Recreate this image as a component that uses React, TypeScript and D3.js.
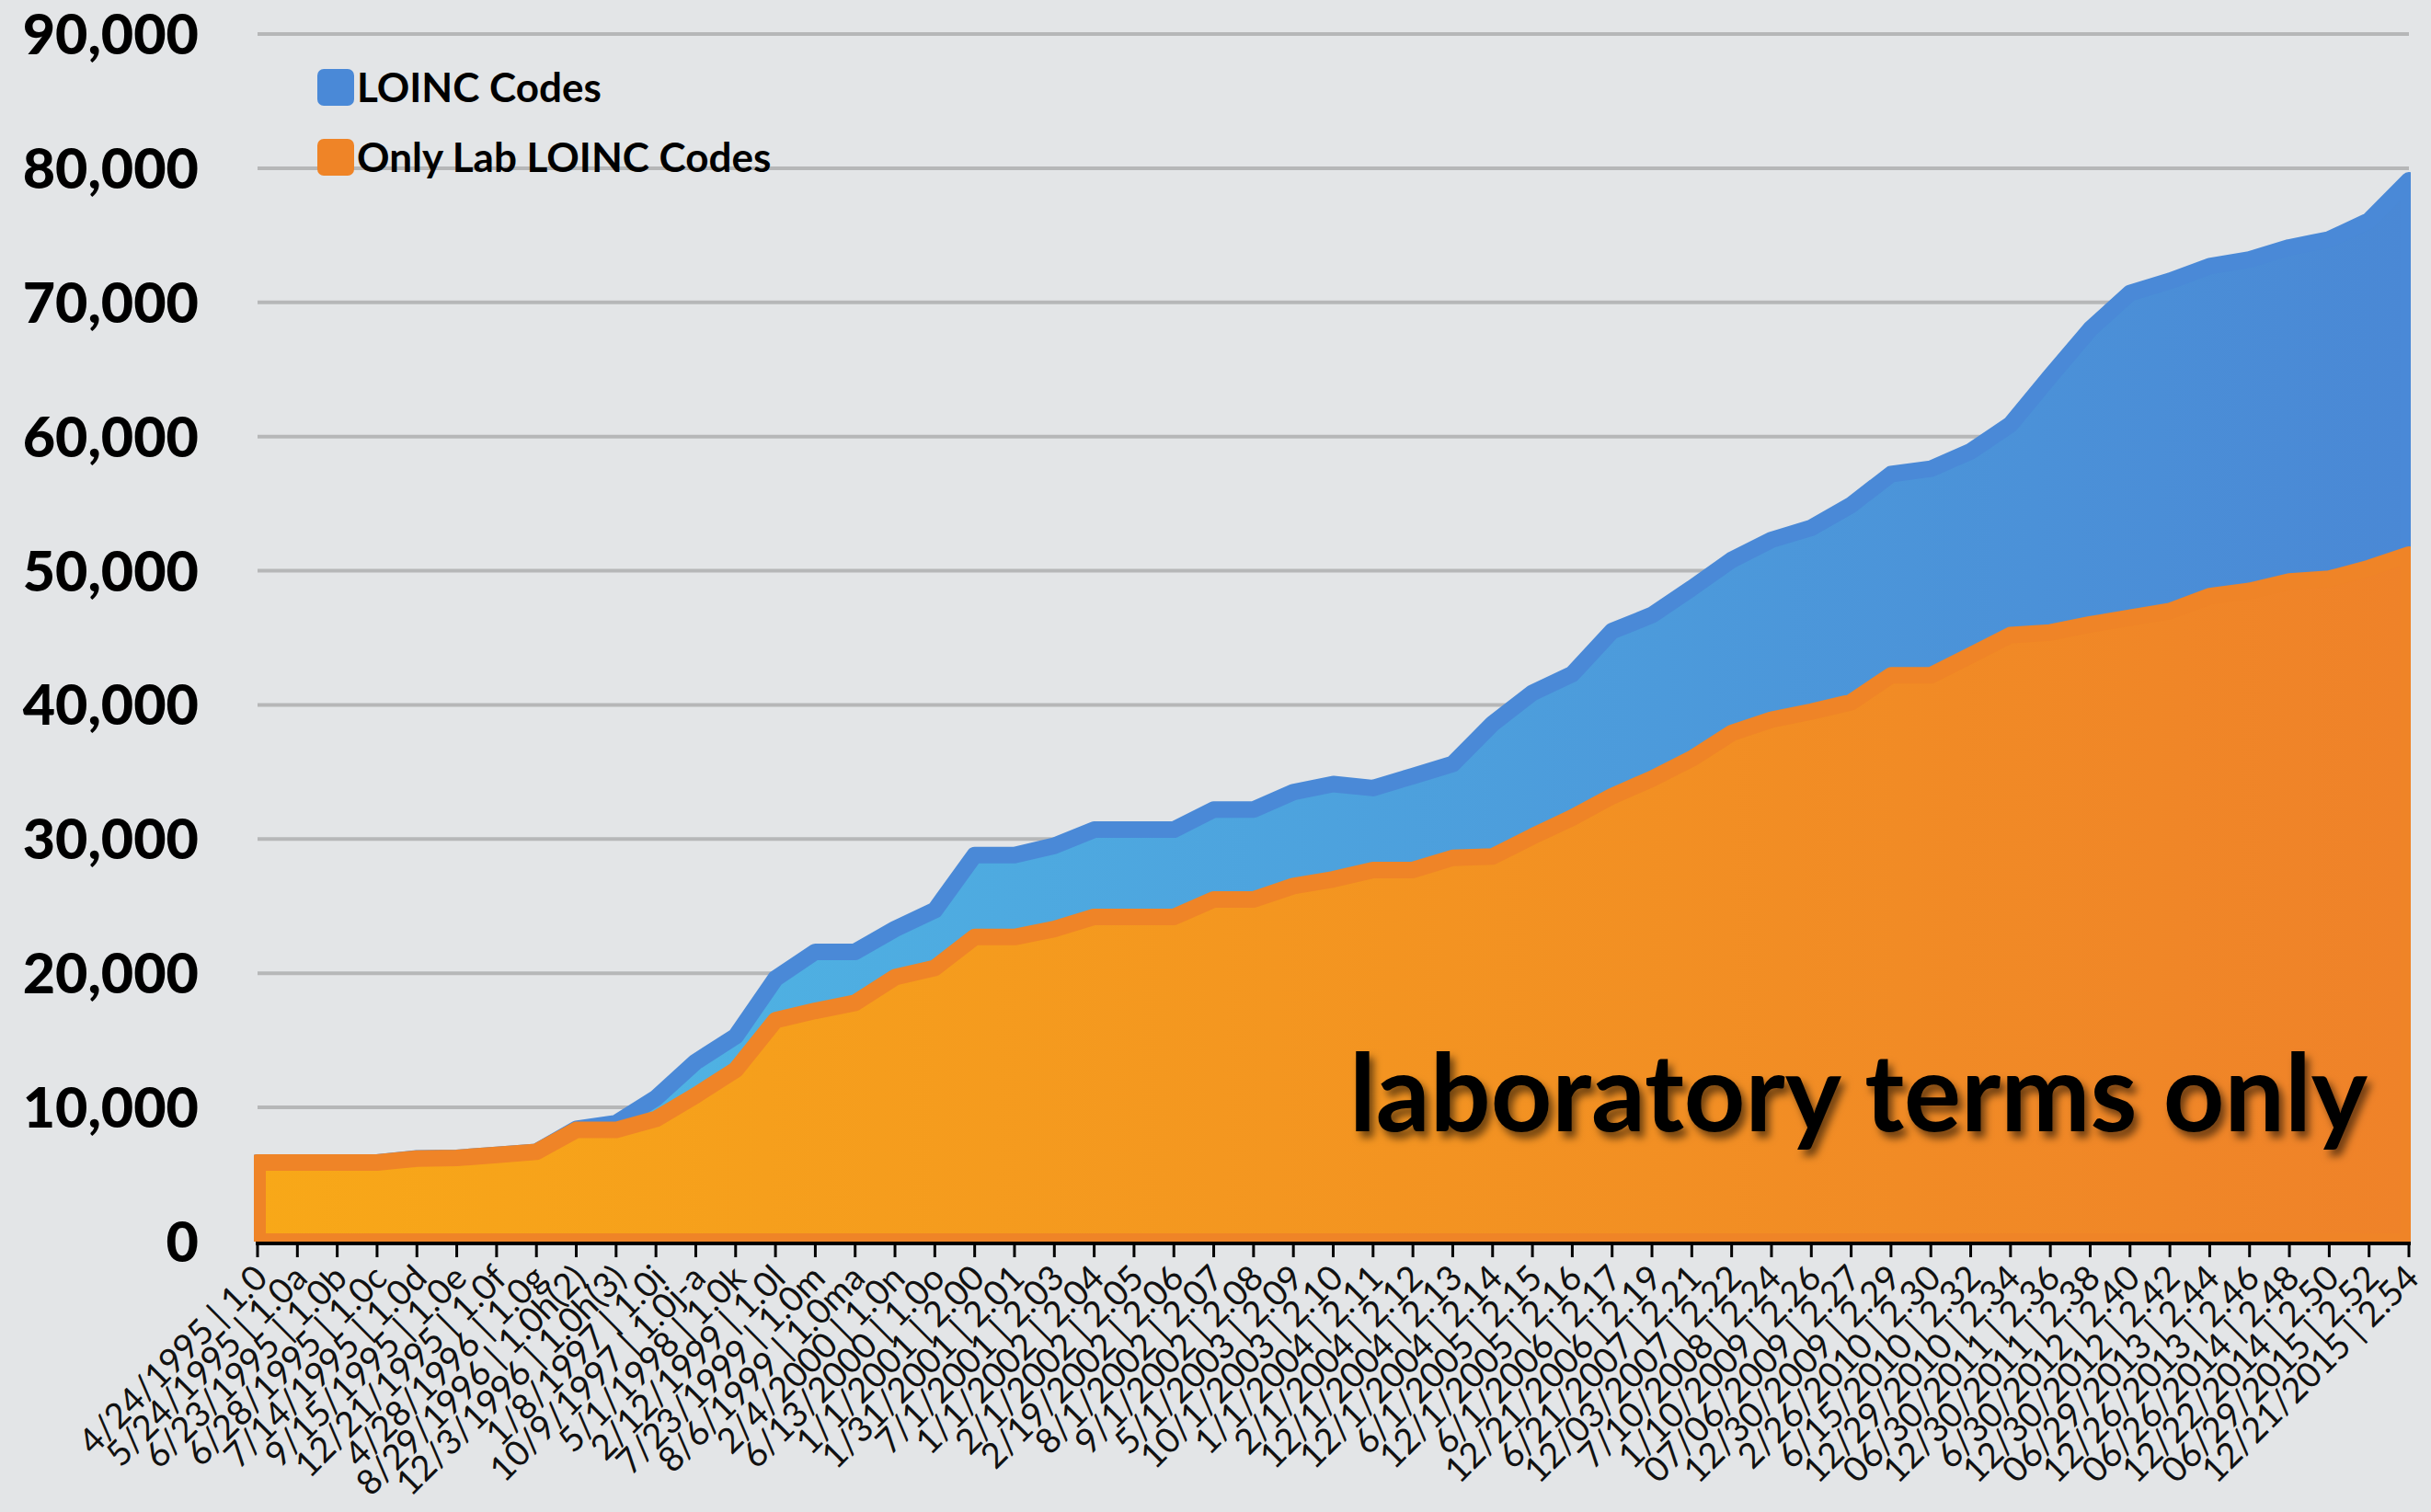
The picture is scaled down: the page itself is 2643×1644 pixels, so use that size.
import React, { useEffect, useRef } from "react";
import * as d3 from "d3";

// release date | LOINC version
const categories = [
  "4/24/1995 | 1.0", "5/24/1995 | 1.0a", "6/23/1995 | 1.0b", "6/28/1995 | 1.0c",
  "7/14/1995 | 1.0d", "9/15/1995 | 1.0e", "12/21/1995 | 1.0f", "4/28/1996 | 1.0g",
  "8/29/1996 | 1.0h(2)", "12/3/1996 | 1.0h(3)", "1/8/1997 | 1.0i", "10/9/1997 | 1.0j-a",
  "5/1/1998 | 1.0k", "2/12/1999 | 1.0l", "7/23/1999 | 1.0m", "8/6/1999 | 1.0ma",
  "2/4/2000 | 1.0n", "6/13/2000 | 1.0o", "1/1/2001 | 2.00", "1/31/2001 | 2.01",
  "7/1/2001 | 2.03", "1/1/2002 | 2.04", "2/1/2002 | 2.05", "2/19/2002 | 2.06",
  "8/1/2002 | 2.07", "9/1/2002 | 2.08", "5/1/2003 | 2.09", "10/1/2003 | 2.10",
  "1/1/2004 | 2.11", "2/1/2004 | 2.12", "12/1/2004 | 2.13", "12/1/2004 | 2.14",
  "6/1/2005 | 2.15", "12/1/2005 | 2.16", "6/1/2006 | 2.17", "12/21/2006 | 2.19",
  "6/21/2007 | 2.21", "12/03/2007 | 2.22", "7/10/2008 | 2.24", "1/10/2009 | 2.26",
  "07/06/2009 | 2.27", "12/30/2009 | 2.29", "2/26/2010 | 2.30", "6/15/2010 | 2.32",
  "12/29/2010 | 2.34", "06/30/2011 | 2.36", "12/30/2011 | 2.38", "6/30/2012 | 2.40",
  "12/30/2012 | 2.42", "06/29/2013 | 2.44", "12/26/2013 | 2.46", "06/26/2014 | 2.48",
  "12/22/2014 | 2.50", "06/29/2015 | 2.52", "12/21/2015 | 2.54",
];

const loincCodes = [
  5900, 5900, 5900, 5900, 6200, 6240, 6460, 6690, 8400, 8840,
  10700, 13400, 15300, 19600, 21600, 21600, 23300, 24700, 28800, 28800,
  29500, 30700, 30700, 30700, 32200, 32200, 33500, 34100, 33800, 34700,
  35600, 38600, 40900, 42300, 45500, 46700, 48700, 50800, 52300, 53200,
  54900, 57200, 57600, 58900, 60900, 64500, 68000, 70700, 71600, 72700,
  73200, 74100, 74700, 76100, 79100,
];

const labLoincCodes = [
  5900, 5900, 5900, 5900, 6190, 6240, 6460, 6690, 8320, 8320,
  9140, 10900, 12800, 16500, 17200, 17800, 19700, 20400, 22700, 22700,
  23300, 24200, 24200, 24200, 25500, 25500, 26500, 27000, 27700, 27700,
  28600, 28700, 30200, 31600, 33200, 34500, 36000, 37900, 38900, 39500,
  40200, 42200, 42200, 43700, 45200, 45400, 46000, 46500, 47000, 48100,
  48500, 49200, 49400, 50200, 51200,
];

const yTickValues = [0, 10000, 20000, 30000, 40000, 50000, 60000, 70000, 80000, 90000];

const legendItems = [
  { label: "LOINC Codes", color: "#4a89d7" },
  { label: "Only Lab LOINC Codes", color: "#ef8427" },
];

const W = 2643;
const H = 1644;

function App() {
  const ref = useRef<SVGSVGElement>(null);

  useEffect(() => {
    const svg = d3.select(ref.current);
    svg.selectAll("*").remove();

    const left = 280, right = 2619, top = 37, bottom = 1350;

    const x = d3.scalePoint().domain(categories).range([left, right]);
    const y = d3.scaleLinear().domain([0, 90000]).range([bottom, top]);

    // background
    svg.append("rect").attr("width", W).attr("height", H).attr("fill", "#e3e5e7");

    const defs = svg.append("defs");

    const orangeGrad = defs.append("linearGradient")
      .attr("id", "orangeFill")
      .attr("gradientUnits", "userSpaceOnUse")
      .attr("x1", left).attr("x2", right).attr("y1", 0).attr("y2", 0);
    orangeGrad.append("stop").attr("offset", "0%").attr("stop-color", "#f8a818");
    orangeGrad.append("stop").attr("offset", "100%").attr("stop-color", "#ef8229");

    const blueGrad = defs.append("linearGradient")
      .attr("id", "blueFill")
      .attr("gradientUnits", "userSpaceOnUse")
      .attr("x1", left).attr("x2", right).attr("y1", 0).attr("y2", 0);
    blueGrad.append("stop").attr("offset", "0%").attr("stop-color", "#50bce6");
    blueGrad.append("stop").attr("offset", "100%").attr("stop-color", "#4a88d5");

    defs.append("clipPath").attr("id", "plotClip")
      .append("rect")
      .attr("x", left - 4).attr("y", 0)
      .attr("width", right - left + 6).attr("height", bottom);

    const shadow = defs.append("filter").attr("id", "textShadow")
      .attr("x", "-10%").attr("y", "-30%").attr("width", "120%").attr("height", "160%");
    shadow.append("feDropShadow")
      .attr("dx", 5).attr("dy", 7).attr("stdDeviation", 4)
      .attr("flood-color", "#000").attr("flood-opacity", 0.55);

    // gridlines
    svg.append("g")
      .selectAll("line")
      .data(yTickValues.slice(1))
      .enter()
      .append("line")
      .attr("x1", left).attr("x2", right)
      .attr("y1", (d) => y(d)).attr("y2", (d) => y(d))
      .attr("stroke", "#b6b7b8")
      .attr("stroke-width", 4);

    const area = d3.area<number>()
      .x((d, i) => x(categories[i]) as number)
      .y0(y(0))
      .y1((d) => y(d));

    const plot = svg.append("g").attr("clip-path", "url(#plotClip)");

    // total codes behind, lab-only codes on top
    plot.append("path")
      .datum(loincCodes)
      .attr("d", area)
      .attr("fill", "url(#blueFill)")
      .attr("stroke", legendItems[0].color)
      .attr("stroke-width", 18)
      .attr("stroke-linejoin", "round");

    plot.append("path")
      .datum(labLoincCodes)
      .attr("d", area)
      .attr("fill", "url(#orangeFill)")
      .attr("stroke", legendItems[1].color)
      .attr("stroke-width", 18)
      .attr("stroke-linejoin", "round");

    // x axis line + ticks
    svg.append("line")
      .attr("x1", left - 2).attr("x2", right + 2)
      .attr("y1", bottom + 2).attr("y2", bottom + 2)
      .attr("stroke", "#000").attr("stroke-width", 4);

    svg.append("g")
      .selectAll("line")
      .data(categories)
      .enter()
      .append("line")
      .attr("x1", (d) => x(d) as number).attr("x2", (d) => x(d) as number)
      .attr("y1", bottom + 2).attr("y2", bottom + 17)
      .attr("stroke", "#000").attr("stroke-width", 3);

    // rotated category labels
    svg.append("g")
      .selectAll("text")
      .data(categories)
      .enter()
      .append("text")
      .text((d) => d)
      .attr("transform", (d) => "translate(" + ((x(d) as number) + 13) + "," + (bottom + 42) + ") rotate(-45)")
      .attr("text-anchor", "end")
      .attr("font-family", "Lato, sans-serif")
      .attr("font-size", 38)
      .attr("fill", "#111");

    // y labels
    svg.append("g")
      .selectAll("text")
      .data(yTickValues)
      .enter()
      .append("text")
      .text((d) => d3.format(",")(d))
      .attr("x", 216)
      .attr("y", (d) => y(d))
      .attr("dy", "0.36em")
      .attr("text-anchor", "end")
      .attr("font-family", "Lato, sans-serif")
      .attr("font-weight", 900)
      .attr("font-size", 61)
      .attr("fill", "#000");

    // legend
    const legend = svg.append("g")
      .selectAll("g")
      .data(legendItems)
      .enter()
      .append("g")
      .attr("transform", (d, i) => "translate(345," + (95 + i * 76) + ")");
    legend.append("rect")
      .attr("x", 0).attr("y", -20)
      .attr("width", 40).attr("height", 40)
      .attr("rx", 7)
      .attr("fill", (d) => d.color);
    legend.append("text")
      .text((d) => d.label)
      .attr("x", 43)
      .attr("dy", "0.36em")
      .attr("font-family", "Lato, sans-serif")
      .attr("font-weight", 700)
      .attr("font-size", 44)
      .attr("fill", "#000");

    // annotation
    svg.append("text")
      .text("laboratory terms only")
      .attr("x", 1467)
      .attr("y", 1230)
      .attr("textLength", 1107)
      .attr("lengthAdjust", "spacingAndGlyphs")
      .attr("font-family", "Lato, sans-serif")
      .attr("font-weight", 700)
      .attr("font-size", 116)
      .attr("fill", "#000")
      .attr("filter", "url(#textShadow)");
  }, []);

  return (
    <svg
      ref={ref}
      width={W}
      height={H}
      style={{ position: "absolute", left: 0, top: 0, display: "block" }}
    />
  );
}

export default App;
